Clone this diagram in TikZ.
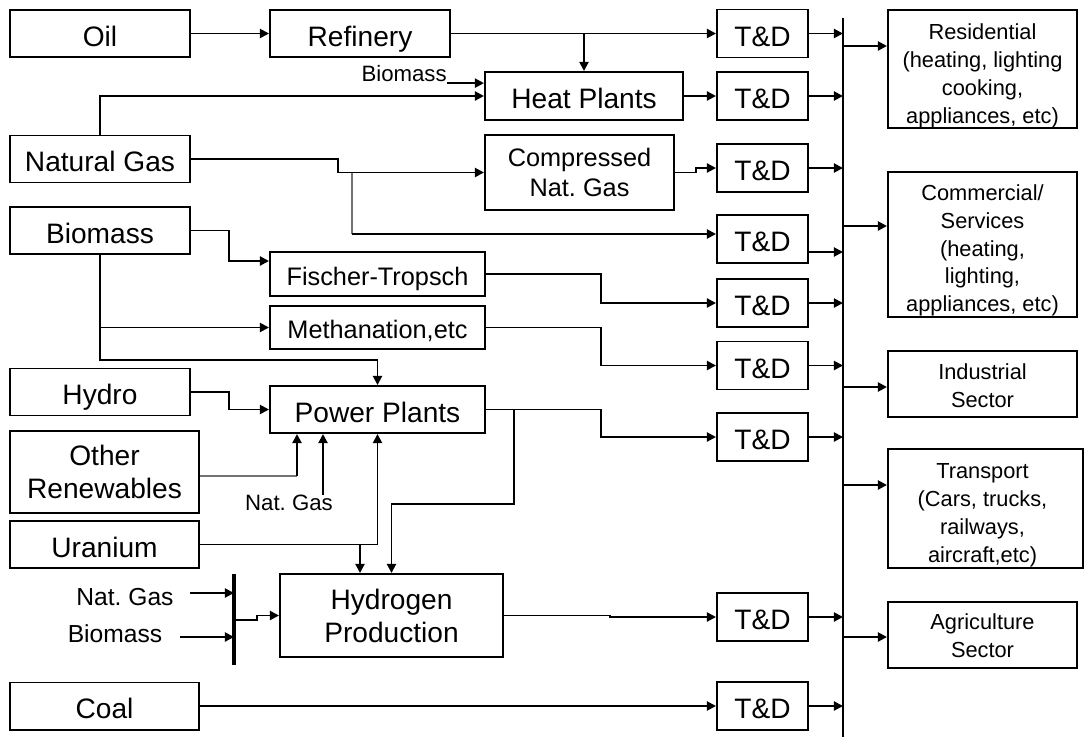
\documentclass[tikz,border=0pt]{standalone}
\usepackage{fontspec}
\setmainfont{Liberation Sans}
\usetikzlibrary{arrows.meta}
\frenchspacing
\begin{document}
\begin{tikzpicture}[x=0.025cm, y=-0.025cm,
    every node/.style={inner sep=0pt, align=center},
    box/.style={draw, line width=1.4pt, font=\fontsize{20}{23.5}\selectfont},
    midbox/.style={draw, line width=1.4pt, font=\fontsize{18}{21.5}\selectfont},
    oneline/.style={text height=18pt, text depth=0pt},
    midone/.style={text height=16.2pt, text depth=0pt},
    secbox/.style={draw, line width=1.4pt, minimum width=4.725cm},
    sectxt/.style={font=\fontsize{15.5}{19.8}\selectfont},
    tdbox/.style={box, oneline, minimum width=2.275cm, minimum height=1.2cm},
    src/.style={box, minimum width=4.5cm, minimum height=1.175cm},
    lbl/.style={font=\fontsize{15.8}{18}\selectfont},
    midlbl/.style={font=\fontsize{17.5}{21}\selectfont},
    arr/.style={line width=1.4pt, -{Triangle[length=6.5pt, width=6.5pt]}},
    faint/.style={line width=0.8pt, draw=black!55}]
  \useasboundingbox (0,0) rectangle (1085,738);
  \node[src, oneline] (oil) at (100,33.5) {Oil};
  \node[src, oneline] (ref) at (360,33.5) {Refinery};
  \node[src, oneline] (ng) at (100,159) {Natural Gas};
  \node[src, oneline] (bm) at (100,230.5) {Biomass};
  \node[src, oneline] (hy) at (100,392) {Hydro};
  \node[src, minimum width=4.725cm, minimum height=2.05cm] (ore) at (104.5,472) {Other\\Renewables};
  \node[src, oneline, minimum width=4.725cm] (ur) at (104.5,544.5) {Uranium};
  \node[src, oneline, minimum width=4.725cm] (coal) at (104.5,706) {Coal};
  \node[box, oneline, minimum width=4.95cm, minimum height=1.2cm] (heat) at (584,96) {Heat Plants};
  \node[midbox, minimum width=4.725cm, minimum height=1.875cm] (cng) at (579.5,172.5) {Compressed\\Nat. Gas};
  \node[midbox, midone, minimum width=5.375cm, minimum height=1.1cm] (ft) at (377.5,274) {Fischer-Tropsch};
  \node[midbox, midone, minimum width=5.375cm, minimum height=1.075cm] (meth) at (377.5,327.5) {Methanation,etc};
  \node[box, oneline, minimum width=5.375cm, minimum height=1.175cm] (pp) at (377.5,409.5) {Power Plants};
  \node[box, minimum width=5.575cm, minimum height=2.075cm] (h2) at (391.5,615.5) {Hydrogen\\Production};
  \node[tdbox] (td1) at (762.5,33.5) {T\&D};
  \node[tdbox] (td2) at (762.5,96) {T\&D};
  \node[tdbox] (td3) at (762.5,168) {T\&D};
  \node[tdbox] (td4) at (762.5,239) {T\&D};
  \node[tdbox] (td5) at (762.5,303) {T\&D};
  \node[tdbox] (td6) at (762.5,365.5) {T\&D};
  \node[tdbox] (td7) at (762.5,437) {T\&D};
  \node[tdbox] (td8) at (762.5,617) {T\&D};
  \node[tdbox] (td9) at (762.5,706) {T\&D};
  \node[secbox, minimum height=2.95cm] (res) at (982.5,69) {};
  \node[sectxt] at (982.5,76) {Residential\\(heating, lighting\\cooking,\\appliances, etc)};
  \node[secbox, minimum height=3.625cm] (com) at (982.5,244.5) {};
  \node[sectxt] at (982.5,250.5) {Commercial/\\Services\\(heating,\\lighting,\\appliances, etc)};
  \node[secbox, minimum height=1.65cm] (ind) at (982.5,384) {};
  \node[sectxt] at (982.5,386) {Industrial\\Sector};
  \node[secbox, minimum width=4.875cm, minimum height=2.975cm] (tra) at (985.5,508.5) {};
  \node[sectxt] at (982.5,515.5) {Transport\\(Cars, trucks,\\railways,\\aircraft,etc)};
  \node[secbox, minimum height=1.65cm] (agr) at (982.5,635) {};
  \node[sectxt] at (982.5,636) {Agriculture\\Sector};
  \node[lbl, anchor=base east] (bml) at (447,81) {Biomass};
  \node[lbl] (ngl) at (289,503) {Nat. Gas};
  \node[midlbl] (ngl2) at (125,597) {Nat. Gas};
  \node[midlbl] (bml2) at (115,634) {Biomass};
  \coordinate (bt) at (843,18);
  \coordinate (bb) at (843,737);
  \coordinate (mt) at (234,574);
  \coordinate (mb) at (234,665);
  \coordinate (bmend) at ([yshift=-1.5pt]bml.base east);
  \coordinate (nb) at (352,234);
  \coordinate (t4o) at (808,252);
  \draw[line width=2.1pt] (bt) -- (bb);
  \draw[line width=2.6pt] (mt) -- (mb);
  \draw[arr] (oil) -- (ref);
  \draw[arr] (ref) -- (td1);
  \draw[arr] (ref.east -| heat.north) -- (heat.north);
  \draw[arr] (bmend) -- (bmend -| heat.west);
  \draw[arr] (ng.north) |- (heat.west);
  \draw[arr] (heat) -- (td2);
  \draw[arr] (ng.east) -- (338,159) |- (cng.west);
  \draw[faint] (352,172.5) -- (nb);
  \draw[arr] (nb) -- (nb -| td4.west);
  \draw[arr] (cng.east) -- (696,172.5) |- (td3.west);
  \foreach \t in {td1,td2,td3,td5,td6,td7,td8,td9}
    \draw[arr] (\t.east) -- (\t.east -| bt);
  \draw[arr] (t4o) -- (t4o -| bt);
  \foreach \s/\y in {res/46, com/226, ind/387, tra/485, agr/637}
    \draw[arr] (843,\y) -- (\s.west |- 843,\y);
  \draw[arr] (bm.east) -- (229,230.5) |- (ft.west |- 0,261);
  \draw[arr] (bm.south) |- (pp.north |- 0,360) -- (pp.north);
  \draw[arr] (bm.south |- meth.west) -- (meth.west);
  \draw[arr] (ft.east) -- (601,274) |- (td5.west);
  \draw[arr] (meth.east) -- (601,327.5) |- (td6.west);
  \draw[arr] (pp.east) -- (601,409.5) |- (td7.west);
  \draw[arr] (514,409.5) |- (h2.north |- 0,504) -- (h2.north);
  \draw[arr] (hy.east) -- (229,392) |- (pp.west);
  \draw[faint] (ore.east |- 0,476) -- (297,476);
  \draw[arr] (297,476) -- (pp.south -| 297,0);
  \draw[arr] (ngl.north -| 323,0) -- (pp.south -| 323,0);
  \draw[arr] (ur.east) -| (pp.south);
  \draw[arr] (360,544.5) -- (h2.north -| 360,0);
  \draw[arr] (190,593) -- (mt |- 0,593);
  \draw[arr] (180,637) -- (mt |- 0,637);
  \draw[arr] (234,620) -- (257,620) |- (h2.west);
  \draw[arr] (h2.east) -- (610,615.5) |- (td8.west);
  \draw[arr] (coal) -- (td9);
\end{tikzpicture}
\end{document}
